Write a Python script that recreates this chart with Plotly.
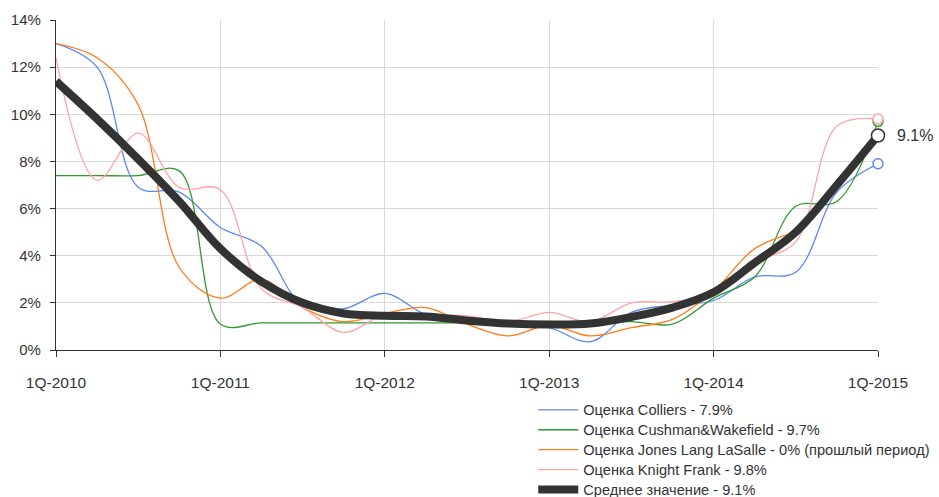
import plotly.graph_objects as go

# Quarters 1Q-2010 .. 1Q-2015
quarters = [f"{q}Q-{y}" for y in range(2010, 2016) for q in range(1, 5)][:21]
tick_labels = ["1Q-2010", "1Q-2011", "1Q-2012", "1Q-2013", "1Q-2014", "1Q-2015"]
y_ticks = [0, 2, 4, 6, 8, 10, 12, 14]

# Vacancy estimates, %
colliers = [13.0, 12.0, 6.9, 6.7, 5.2, 4.4, 1.9, 1.75, 2.4, 1.5, 1.2, 1.15, 0.95, 0.35,
            1.6, 1.9, 2.1, 3.1, 3.3, 6.7, 7.9]
cushman = [7.4, 7.4, 7.4, 7.6, 1.1, 1.15, 1.15, 1.15, 1.15, 1.15, 1.15, 1.15, 1.15, 1.15,
           1.2, 1.1, 2.2, 3.1, 6.1, 6.3, 9.7]
jll = [13.0, 12.4, 10.4, 3.5, 2.2, 3.0, 1.8, 1.2, 1.55, 1.8, 1.1, 0.6, 1.05, 0.6,
       0.95, 1.3, 2.5, 4.3, 5.0, None, None]
knight = [12.4, 7.2, 9.2, 6.9, 6.8, 2.6, 1.8, 0.75, 1.5, 1.5, 1.45, 1.2, 1.6, 1.2,
          2.0, 2.05, 2.4, 3.7, 4.6, 9.5, 9.8]
average = [11.4, 9.8, 8.1, 6.3, 4.3, 2.9, 2.0, 1.55, 1.45, 1.42, 1.25, 1.12, 1.08, 1.12,
           1.4, 1.8, 2.45, 3.7, 5.0, 7.0, 9.1]

names = [
    "Оценка Colliers - 7.9%",
    "Оценка Cushman&Wakefield - 9.7%",
    "Оценка Jones Lang LaSalle - 0% (прошлый период)",
    "Оценка Knight Frank - 9.8%",
    "Среднее значение - 9.1%",
]
colors = ["#5b87f5", "#2e9a2e", "#ff7b1c", "#ffa3a3", "#333333"]
widths = [1.3, 1.3, 1.3, 1.3, 8]
series = [colliers, cushman, jll, knight, average]
end_marker = [True, True, False, True, True]

x = list(range(len(quarters)))
FONT = "Liberation Sans, Arial, sans-serif"

fig = go.Figure()
for s, name, c, w in zip(series, names, colors, widths):
    fig.add_trace(go.Scatter(
        x=x, y=s, mode="lines",
        name=f'<span style="font-size:14.6px">{name}</span>',
        line=dict(color=c, width=w, shape="spline", smoothing=1.0),
        connectgaps=False, hoverinfo="skip",
    ))

# open circles at the latest quarter
for s, c, show, w in zip(series, colors, end_marker, widths):
    if not show:
        continue
    big = w > 2
    fig.add_trace(go.Scatter(
        x=[x[-1]], y=[s[-1]], mode="markers", showlegend=False, hoverinfo="skip",
        marker=dict(size=13 if big else 10, color="white",
                    line=dict(color=c, width=1.5)),
        cliponaxis=False,
    ))

fig.add_annotation(
    x=x[-1], y=average[-1], text=f"{average[-1]}%", showarrow=False,
    xanchor="left", yanchor="middle", xshift=17,
    font=dict(family=FONT, size=16, color="#333333"),
)

fig.update_layout(
    width=939, height=497,
    margin=dict(l=56, r=61, t=20, b=147, autoexpand=False),
    paper_bgcolor="white", plot_bgcolor="white",
    font=dict(family=FONT, size=14, color="#333333"),
    showlegend=True,
    legend=dict(
        x=0.5806, y=-0.136, xanchor="left", yanchor="top",
        font=dict(family=FONT, size=13, color="#333333"),
        bgcolor="rgba(0,0,0,0)", tracegroupgap=0, itemwidth=40,
    ),
)
fig.update_xaxes(
    range=[0, 20], tickvals=[0, 4, 8, 12, 16, 20], ticktext=tick_labels,
    showgrid=True, gridcolor="#d9d9d9", gridwidth=1.2,
    showline=True, linecolor="#333333", linewidth=1.2,
    ticks="outside", ticklen=6, tickcolor="#333333",
    tickfont=dict(family=FONT, size=15.5, color="#333333"),
    ticklabelstandoff=12,
    zeroline=False,
)
fig.update_yaxes(
    range=[0, 14], tickvals=y_ticks, ticktext=[f"{v}%" for v in y_ticks],
    showgrid=True, gridcolor="#d9d9d9", gridwidth=1.2,
    showline=True, linecolor="#333333", linewidth=1.2,
    ticks="outside", ticklen=5, tickcolor="#333333",
    tickfont=dict(family=FONT, size=15, color="#333333"),
    ticklabelstandoff=6,
    zeroline=False,
)

fig.write_html("out.html")
